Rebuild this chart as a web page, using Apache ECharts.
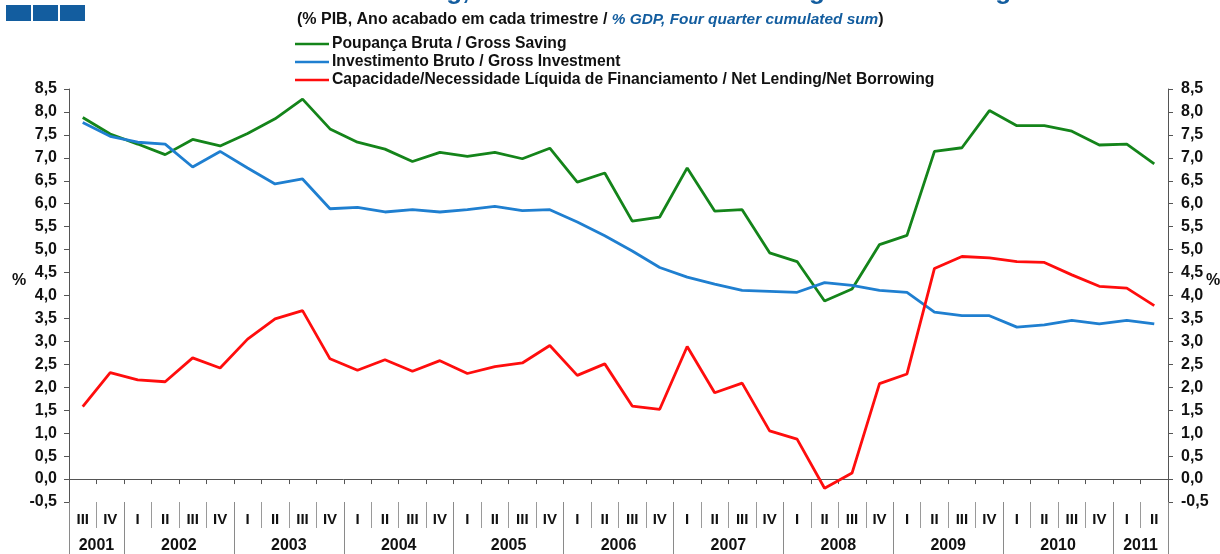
<!DOCTYPE html>
<html>
<head>
<meta charset="utf-8">
<script src="https://cdn.jsdelivr.net/npm/echarts@6/dist/echarts.min.js"></script>
<style>
  html, body { margin: 0; padding: 0; background: #ffffff; }
  #chart { width: 1220px; height: 554px; }
</style>
</head>
<body>
<div id="chart"></div>
<script>
// Quarter of each observation (2001 III .. 2011 II); a new year starts at 'I'
const quarters = [
  'III','IV',
  'I','II','III','IV',
  'I','II','III','IV',
  'I','II','III','IV',
  'I','II','III','IV',
  'I','II','III','IV',
  'I','II','III','IV',
  'I','II','III','IV',
  'I','II','III','IV',
  'I','II','III','IV',
  'I','II'
];
const years = ['2001','2002','2003','2004','2005','2006','2007','2008','2009','2010','2011'];

// % of GDP, four-quarter cumulated sums
const grossSaving = [
  7.88, 7.52, 7.30, 7.07, 7.40, 7.26, 7.53, 7.85, 8.28, 7.63,
  7.34, 7.19, 6.92, 7.12, 7.03, 7.12, 6.98, 7.21, 6.47, 6.67,
  5.62, 5.71, 6.78, 5.84, 5.87, 4.93, 4.74, 3.88, 4.14, 5.11,
  5.31, 7.14, 7.22, 8.03, 7.70, 7.70, 7.58, 7.28, 7.30, 6.87
];
const grossInvestment = [
  7.77, 7.47, 7.34, 7.30, 6.80, 7.14, 6.78, 6.43, 6.54, 5.89,
  5.92, 5.82, 5.87, 5.82, 5.87, 5.94, 5.85, 5.87, 5.60, 5.30,
  4.97, 4.61, 4.40, 4.25, 4.11, 4.09, 4.07, 4.28, 4.22, 4.11,
  4.07, 3.64, 3.56, 3.56, 3.31, 3.36, 3.46, 3.38, 3.46, 3.38
];
const netLending = [
  1.58, 2.32, 2.16, 2.12, 2.64, 2.42, 3.05, 3.49, 3.67, 2.62,
  2.37, 2.60, 2.35, 2.58, 2.30, 2.45, 2.53, 2.91, 2.26, 2.51,
  1.59, 1.52, 2.89, 1.88, 2.09, 1.05, 0.87, -0.20, 0.13, 2.08,
  2.29, 4.59, 4.85, 4.82, 4.74, 4.72, 4.45, 4.20, 4.16, 3.78
];

const seriesNames = [
  'Poupança Bruta / Gross Saving',
  'Investimento Bruto / Gross Investment',
  'Capacidade/Necessidade Líquida de Financiamento / Net Lending/Net Borrowing'
];
const seriesColors = ['#14841a', '#1f7fd0', '#ff0d0d'];
const yTicks = { min: -0.5, max: 8.5, step: 0.5 };

// Year spans on a 0..N continuous scale (one unit per quarter)
const yearStarts = [0];
quarters.forEach((q, i) => { if (q === 'I' && i > 0) yearStarts.push(i); });
const yearBounds = yearStarts.concat([quarters.length]);
const yearCenters = yearStarts.map((s, k) => (s + yearBounds[k + 1]) / 2);

const FONT = '"Liberation Sans", Arial, Helvetica, sans-serif';
const fmt = v => v.toFixed(1).replace('.', ',');
const seriesData = [grossSaving, grossInvestment, netLending];

const chart = echarts.init(document.getElementById('chart'), null, { renderer: 'canvas' });

chart.setOption({
  animation: false,
  backgroundColor: '#ffffff',
  textStyle: { fontFamily: FONT },
  title: [
    {
      text: 'Saving, Investment and Net Lending/Net Borrowing',
      left: 372, top: -26,
      textStyle: { fontFamily: FONT, fontSize: 26, fontWeight: 'bold', color: '#135d9f' }
    },
    {
      text: '{a|(% PIB, Ano acabado em cada trimestre / }{b|% GDP, Four quarter cumulated sum}{a|)}',
      left: 292, top: 7,
      textStyle: {
        rich: {
          a: { fontFamily: FONT, fontSize: 16, fontWeight: 'bold', color: '#111111' },
          b: { fontFamily: FONT, fontSize: 15.4, fontWeight: 'bold', fontStyle: 'italic', color: '#135d9f' }
        }
      }
    }
  ],
  graphic: [
    { type: 'rect', left: 6, top: 5, shape: { width: 25, height: 16 }, style: { fill: '#135d9f' } },
    { type: 'rect', left: 33, top: 5, shape: { width: 25, height: 16 }, style: { fill: '#135d9f' } },
    { type: 'rect', left: 60, top: 5, shape: { width: 25, height: 16 }, style: { fill: '#135d9f' } },
    { type: 'text', left: 12, top: 273, style: { text: '%', font: 'bold 16px ' + FONT, fill: '#111111' } },
    { type: 'text', left: 1206, top: 273, style: { text: '%', font: 'bold 16px ' + FONT, fill: '#111111' } }
  ],
  legend: {
    orient: 'vertical',
    left: 290, top: 31,
    icon: 'rect',
    itemWidth: 34, itemHeight: 2.5, itemGap: 2,
    textStyle: { fontFamily: FONT, fontSize: 15.7, fontWeight: 'bold', color: '#111111', padding: [0, 0, 0, -2] },
    data: seriesNames
  },
  grid: { left: 69, right: 52, top: 89, bottom: 50, containLabel: false },
  xAxis: [
    {
      type: 'category', data: quarters, boundaryGap: true,
      axisLine: { onZero: true, lineStyle: { color: '#555555', width: 1 } },
      axisTick: { show: true, length: 5, lineStyle: { color: '#555555' } },
      axisLabel: { show: false },
      splitLine: { show: false }
    },
    {
      type: 'category', data: quarters, boundaryGap: true, position: 'bottom',
      axisLine: { show: false, onZero: false },
      axisTick: { show: true, length: 26, lineStyle: { color: '#9a9a9a' } },
      axisLabel: { show: true, interval: 0, margin: 10, fontFamily: FONT, fontSize: 15, fontWeight: 'bold', color: '#111111' },
      splitLine: { show: false }
    },
    {
      type: 'value', min: 0, max: quarters.length, position: 'bottom',
      axisLine: { show: false, onZero: false },
      axisTick: { show: true, length: 60, customValues: yearBounds, lineStyle: { color: '#8a8a8a' } },
      axisLabel: {
        show: true, margin: 36, customValues: yearCenters,
        formatter: v => years[yearCenters.indexOf(v)] || '',
        fontFamily: FONT, fontSize: 16, fontWeight: 'bold', color: '#111111'
      },
      splitLine: { show: false }
    }
  ],
  yAxis: [
    {
      type: 'value', position: 'left',
      min: yTicks.min, max: yTicks.max, interval: yTicks.step,
      axisLine: { show: true, lineStyle: { color: '#555555' } },
      axisTick: { show: true, length: 5, lineStyle: { color: '#555555' } },
      axisLabel: { formatter: fmt, margin: 12, fontFamily: FONT, fontSize: 16, fontWeight: 'bold', color: '#111111' },
      splitLine: { show: false }
    },
    {
      type: 'value', position: 'right',
      min: yTicks.min, max: yTicks.max, interval: yTicks.step,
      axisLine: { show: true, lineStyle: { color: '#555555' } },
      axisTick: { show: true, length: 5, lineStyle: { color: '#555555' } },
      axisLabel: { formatter: fmt, margin: 13, fontFamily: FONT, fontSize: 16, fontWeight: 'bold', color: '#111111' },
      splitLine: { show: false }
    }
  ],
  series: seriesNames.map((name, i) => ({
    name, type: 'line', data: seriesData[i], symbol: 'none', color: seriesColors[i],
    lineStyle: { width: 2.8, color: seriesColors[i] }
  }))
});
</script>
</body>
</html>
